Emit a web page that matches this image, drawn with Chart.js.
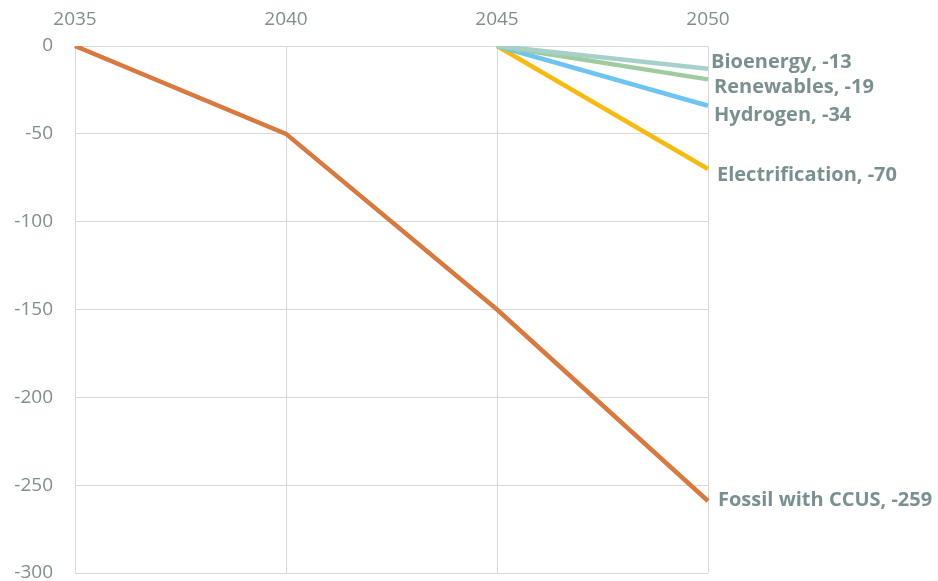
<!DOCTYPE html>
<html>
<head>
<meta charset="utf-8">
<script src="https://cdn.jsdelivr.net/npm/chart.js@4"></script>
<style>
  html, body { margin: 0; padding: 0; background: #fff; }
  #wrap { width: 938px; height: 581px; }
</style>
</head>
<body>
<div id="wrap"><canvas id="c" width="938" height="581"></canvas></div>
<script>
// Years on the horizontal axis
const years = ['2035', '2040', '2045', '2050'];

// Cumulative change by pathway (null = not started yet)
const fossilCCUS      = [0, -50, -150, -259];
const electrification = [null, null, 0, -70];
const hydrogen        = [null, null, 0, -34];
const renewables      = [null, null, 0, -19];
const bioenergy       = [null, null, 0, -13];

const seriesNames = ['Bioenergy', 'Renewables', 'Hydrogen', 'Electrification', 'Fossil with CCUS'];

// Y axis ticks
const yMin = -300, yMax = 0, yStep = 50;

const gridColor = '#d9d9d9';
const tickColor = '#7f8e8e';
const labelColor = '#7a9090';

// End-of-line label nudges (px), keyed by series name
const labelNudge = {
  'Bioenergy':        { dx: 3,  dy: -7 },
  'Renewables':       { dx: 6,  dy: 8 },
  'Hydrogen':         { dx: 6,  dy: 10 },
  'Electrification':  { dx: 9,  dy: 6 },
  'Fossil with CCUS': { dx: 10, dy: -1 }
};

const endLabels = {
  id: 'endLabels',
  afterDatasetsDraw(chart) {
    const ctx = chart.ctx;
    ctx.save();
    ctx.font = 'bold 20px "Open Sans", sans-serif';
    ctx.fillStyle = labelColor;
    ctx.textAlign = 'left';
    ctx.textBaseline = 'middle';
    chart.data.datasets.forEach((ds, i) => {
      const meta = chart.getDatasetMeta(i);
      const last = ds.data.length - 1;
      const pt = meta.data[last];
      const n = labelNudge[ds.label] || { dx: 4, dy: 0 };
      ctx.fillText(ds.label + ', ' + ds.data[last], pt.x + n.dx, pt.y + n.dy);
    });
    ctx.restore();
  }
};

const lineStyle = (label, data, color) => ({
  label, data,
  borderColor: color,
  backgroundColor: color,
  borderWidth: 4.5,
  pointRadius: 0,
  tension: 0,
  fill: false
});

new Chart(document.getElementById('c'), {
  type: 'line',
  data: {
    labels: years,
    datasets: [
      lineStyle(seriesNames[0], bioenergy, '#a7d0ca'),
      lineStyle(seriesNames[1], renewables, '#9fcc9f'),
      lineStyle(seriesNames[2], hydrogen, '#6ec4f0'),
      lineStyle(seriesNames[3], electrification, '#f6ba10'),
      lineStyle(seriesNames[4], fossilCCUS, '#d67a40')
    ]
  },
  options: {
    responsive: false,
    animation: false,
    layout: { padding: { left: 0, right: 230, top: 0, bottom: 8 } },
    plugins: { legend: { display: false }, tooltip: { enabled: false } },
    scales: {
      x: {
        position: 'top',
        offset: false,
        grid: { color: gridColor, lineWidth: 1, drawTicks: false },
        border: { color: gridColor },
        ticks: { color: tickColor, font: { family: '"Open Sans", sans-serif', size: 19 }, padding: 15, maxRotation: 0 },
        afterFit(axis) { axis.height = 46; }
      },
      y: {
        min: yMin, max: yMax,
        grid: { color: gridColor, lineWidth: 1, drawTicks: false },
        border: { color: gridColor },
        ticks: { stepSize: yStep, color: tickColor, font: { family: '"Open Sans", sans-serif', size: 19 }, padding: 22 },
        afterFit(axis) {
          axis.width = 75;
          // let the end tick labels overhang the plot edges
          axis.paddingTop = 0;
          axis.paddingBottom = 0;
        }
      }
    }
  },
  plugins: [endLabels]
});
</script>
</body>
</html>
